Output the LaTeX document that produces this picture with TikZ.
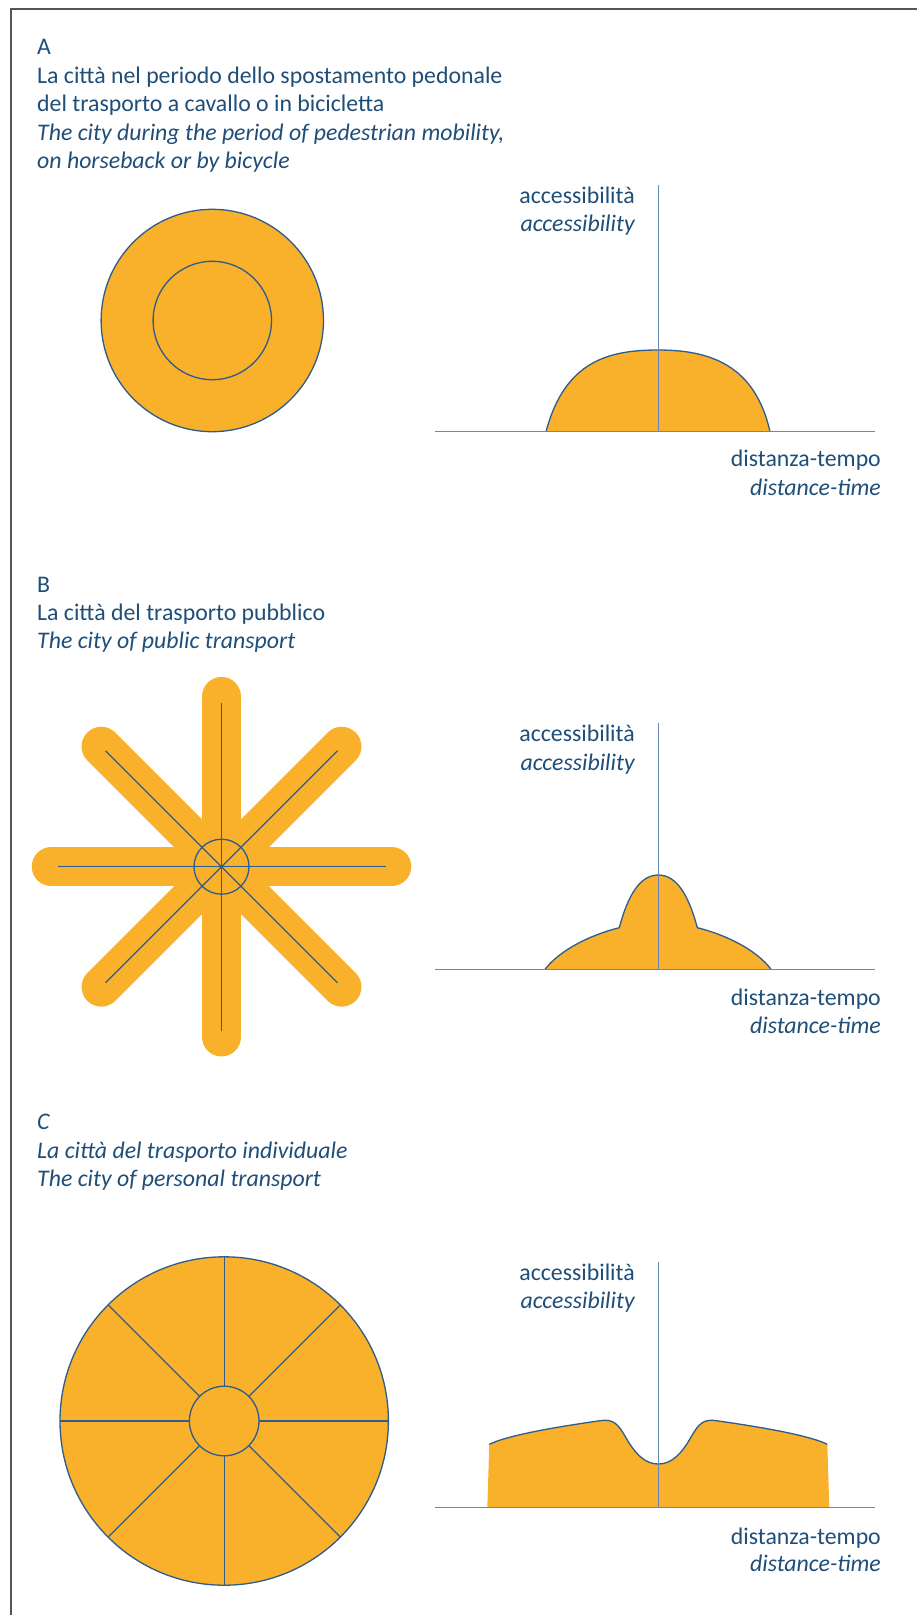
\documentclass[tikz,border=0pt]{standalone}
\usepackage{fontspec}
\setmainfont{Carlito}
\definecolor{txt}{RGB}{31,78,121}
\definecolor{org}{RGB}{249,176,43}
\definecolor{edge}{RGB}{46,92,140}
\definecolor{axiscol}{RGB}{100,136,184}
\definecolor{framecol}{RGB}{85,85,85}
\tikzset{
  lbl/.style={inner sep=0pt, text=txt, font=\fontsize{23.8}{28.5}\selectfont},
  ilbl/.style={inner sep=0pt, text=txt, font=\fontsize{23.8}{28.5}\selectfont\itshape},
  outl/.style={draw=edge, line width=1.3pt},
  axisline/.style={draw=axiscol, line width=1.2pt},
  orangefill/.style={fill=org},
  arm/.style={draw=org, line width=39.5pt, line cap=round},
}
\begin{document}
\begin{tikzpicture}[x=1pt,y=-1pt]
\useasboundingbox (0,0) rectangle (917,1615);
\fill[white] (0,0) rectangle (917,1615);
\draw[framecol, line width=2pt] (11,1615) -- (11,9.3) -- (917,9.3);

% ---------- A ----------
\node[lbl,anchor=base west] (tA) at (37,54.5) {A};
\node[lbl,anchor=base west] (tA1) at (37,83) {La città nel periodo dello spostamento pedonale};
\node[lbl,anchor=base west] (tA2) at (37,111.5) {del trasporto a cavallo o in bicicletta};
\node[ilbl,anchor=base west] (tA3) at (37,140) {The city during the period of pedestrian mobility,};
\node[ilbl,anchor=base west] (tA4) at (37,168.5) {on horseback or by bicycle};

\fill[orangefill] (212.3,320.5) circle[radius=111.2pt];
\draw[outl] (212.3,320.5) circle[radius=111.2pt];
\draw[outl] (212.3,320.5) circle[radius=59.2pt];

\fill[orangefill] (546,431.7) .. controls (565,360) and (610,350) .. (658.3,350)
  .. controls (710,350) and (755,365) .. (770,431.7) -- cycle;
\draw[outl] (546,431.7) .. controls (565,360) and (610,350) .. (658.3,350)
  .. controls (710,350) and (755,365) .. (770,431.7);
\draw[axisline] (435,431.7) -- (875,431.7);
\draw[axisline] (658.3,185) -- (658.3,431.7);
\node[lbl,anchor=base east] (yA1) at (635,203.3) {accessibilità};
\node[ilbl,anchor=base east] (yA2) at (635,231.7) {accessibility};
\node[lbl,anchor=base east] (xA1) at (881,466.7) {distanza-tempo};
\node[ilbl,anchor=base east] (xA2) at (881,495) {distance-time};

% ---------- B ----------
\node[lbl,anchor=base west] (tB) at (37,592) {B};
\node[lbl,anchor=base west] (tB1) at (37,620.3) {La città del trasporto pubblico};
\node[ilbl,anchor=base west] (tB2) at (37,648.6) {The city of public transport};

\coordinate (sc) at (221.5,866.7);
\foreach \a in {0,45,...,315} \draw[arm] (sc) -- ++(\a:170pt);
\foreach \a in {0,45,90,135} \draw[outl,line width=1.2pt] (sc) ++(\a:164pt) -- ++(\a+180:328pt);
\draw[outl] (sc) circle[radius=27.5pt];

\fill[orangefill] (545,969.3) .. controls (560,950) and (590,935) .. (619.3,927.7)
  .. controls (628,895) and (640,875) .. (658.3,875)
  .. controls (676.6,875) and (688.6,895) .. (697.3,927.7)
  .. controls (726.6,935) and (756.6,950) .. (771,969.3) -- cycle;
\draw[outl] (545,969.3) .. controls (560,950) and (590,935) .. (619.3,927.7)
  .. controls (628,895) and (640,875) .. (658.3,875)
  .. controls (676.6,875) and (688.6,895) .. (697.3,927.7)
  .. controls (726.6,935) and (756.6,950) .. (771,969.3);
\draw[axisline] (435,969.3) -- (875,969.3);
\draw[axisline] (658.3,723.3) -- (658.3,969.3);
\node[lbl,anchor=base east] (yB1) at (635,741.7) {accessibilità};
\node[ilbl,anchor=base east] (yB2) at (635,770) {accessibility};
\node[lbl,anchor=base east] (xB1) at (881,1005) {distanza-tempo};
\node[ilbl,anchor=base east] (xB2) at (881,1033.3) {distance-time};

% ---------- C ----------
\node[ilbl,anchor=base west] (tC) at (37,1129.3) {C};
\node[ilbl,anchor=base west] (tC1) at (37,1158) {La città del trasporto individuale};
\node[ilbl,anchor=base west] (tC2) at (37,1186.7) {The city of personal transport};

\coordinate (cc) at (224.2,1421);
\fill[orangefill] (cc) circle[radius=164.2pt];
\draw[outl] (cc) circle[radius=164.2pt];
\draw[outl] (cc) circle[radius=34.8pt];
\foreach \a in {0,45,...,315} \draw[outl] (cc) ++(\a:34.8pt) -- ++(\a:129.4pt);

\fill[orangefill] (487.3,1507.7) -- (489.3,1444.3)
  .. controls (510,1434) and (570,1425) .. (600,1420.7)
  .. controls (613,1418.5) and (618,1424) .. (625,1436)
  .. controls (635,1454) and (645,1464) .. (658.3,1464)
  .. controls (671.6,1464) and (681.6,1454) .. (691.6,1436)
  .. controls (698.6,1424) and (703.6,1418.5) .. (716.6,1420.7)
  .. controls (746.6,1425) and (806.6,1434) .. (827.3,1444.3)
  -- (829.3,1507.7) -- cycle;
\draw[outl] (489.3,1444.3)
  .. controls (510,1434) and (570,1425) .. (600,1420.7)
  .. controls (613,1418.5) and (618,1424) .. (625,1436)
  .. controls (635,1454) and (645,1464) .. (658.3,1464)
  .. controls (671.6,1464) and (681.6,1454) .. (691.6,1436)
  .. controls (698.6,1424) and (703.6,1418.5) .. (716.6,1420.7)
  .. controls (746.6,1425) and (806.6,1434) .. (827.3,1444.3);
\draw[axisline] (435,1507.7) -- (875,1507.7);
\draw[axisline] (658.3,1261.7) -- (658.3,1507.7);
\node[lbl,anchor=base east] (yC1) at (635,1280) {accessibilità};
\node[ilbl,anchor=base east] (yC2) at (635,1308.3) {accessibility};
\node[lbl,anchor=base east] (xC1) at (881,1544) {distanza-tempo};
\node[ilbl,anchor=base east] (xC2) at (881,1571.7) {distance-time};
\end{tikzpicture}
\end{document}
